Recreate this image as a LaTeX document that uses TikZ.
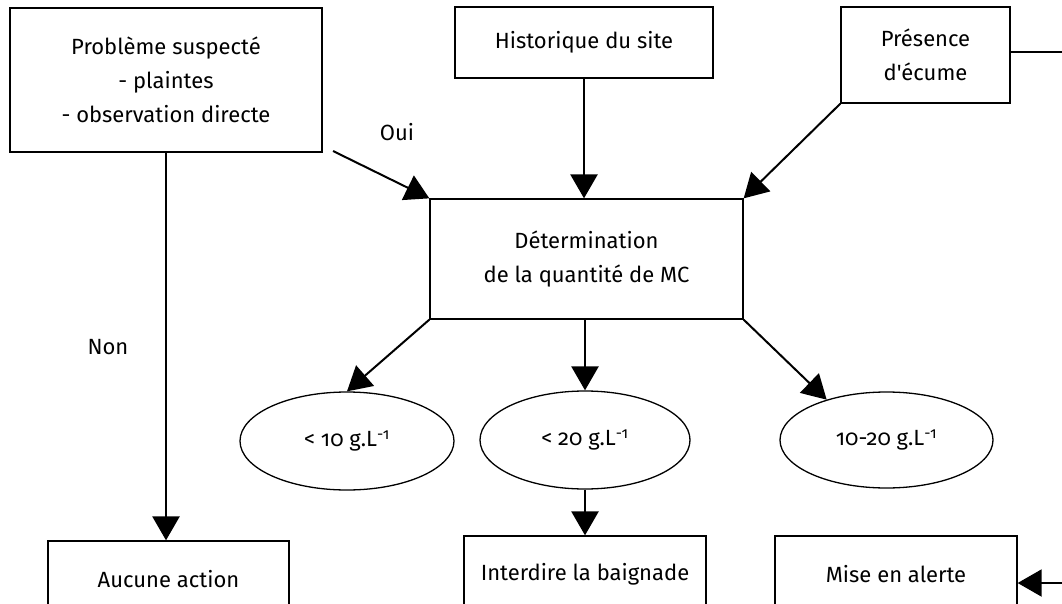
\documentclass[tikz,border=0pt]{standalone}
\usepackage{fontspec}
\newfontfamily\ff{Fira Sans}[Numbers=OldStyle]
\usetikzlibrary{shapes.geometric,arrows.meta}
\begin{document}
\begin{tikzpicture}[x=1pt,y=-1pt,
  box/.style={draw,line width=1.3pt,rectangle,inner sep=0pt,align=center,font=\ff\fontsize{22}{34}\selectfont},
  oval/.style={draw,line width=1.3pt,ellipse,inner sep=0pt,font=\ff\fontsize{22}{26}\selectfont},
  lab/.style={font=\ff\fontsize{22}{26}\selectfont},
  arr/.style={line width=2.6pt,-{Triangle[length=24pt,width=27pt]}},
  darr/.style={line width=2pt,-{Triangle[length=24pt,width=27pt]}},
  plain/.style={line width=1.6pt}]
\clip (0,0) rectangle (1062,604);
\fill[white] (0,0) rectangle (1062,604);
\node[box,minimum width=312pt,minimum height=144pt] (prob) at (166,80) {Problème suspecté\\- plaintes\\- observation directe};
\node[box,minimum width=258pt,minimum height=71pt] (hist) at (584,42.5) {Historique du site};
\node[box,minimum width=169pt,minimum height=96pt] (pres) at (925.5,55) {Présence\\d'écume};
\node[box,minimum width=313pt,minimum height=120pt] (det) at (586.5,259) {Détermination\\de la quantité de MC};
\node[oval,minimum width=214pt,minimum height=98pt] (e1) at (347,441) {< 10 g.L\textsuperscript{-1}};
\node[oval,minimum width=210pt,minimum height=98pt] (e2) at (585,440) {< 20 g.L\textsuperscript{-1}};
\node[oval,minimum width=213pt,minimum height=96pt] (e3) at (886.5,440) {10-20 g.L\textsuperscript{-1}};
\node[box,minimum width=241pt,minimum height=76pt] (auc) at (168.5,579) {Aucune action};
\node[box,minimum width=242pt,minimum height=76pt] (int) at (585,574) {Interdire la baignade};
\node[box,minimum width=242pt,minimum height=76pt] (mise) at (896,574) {Mise en alerte};
\node[lab] (oui) at (397,132) {Oui};
\node[lab] (non) at (108,347) {Non};
\coordinate (ouistart) at (333,151);
\coordinate (rtop) at (1062,52);
\coordinate (rbot) at (1062,583);
\draw[arr] (prob.south) -- (prob.south |- auc.north);
\draw[arr] (hist.south) -- (hist.south |- det.north);
\draw[darr] (pres.south west) -- (det.north east);
\draw[darr] (ouistart) -- (det.north west);
\draw[darr] (det.south west) -- (e1.north);
\draw[arr] (det.south -| e2.north) -- (e2.north);
\draw[darr] (det.south east) -- (e3.146);
\draw[arr] (e2.south) -- (int.north);
\draw[plain] (rtop -| pres.east) -- (rtop);
\draw[darr] (rbot) -- (rbot -| mise.east);
\end{tikzpicture}
\end{document}
